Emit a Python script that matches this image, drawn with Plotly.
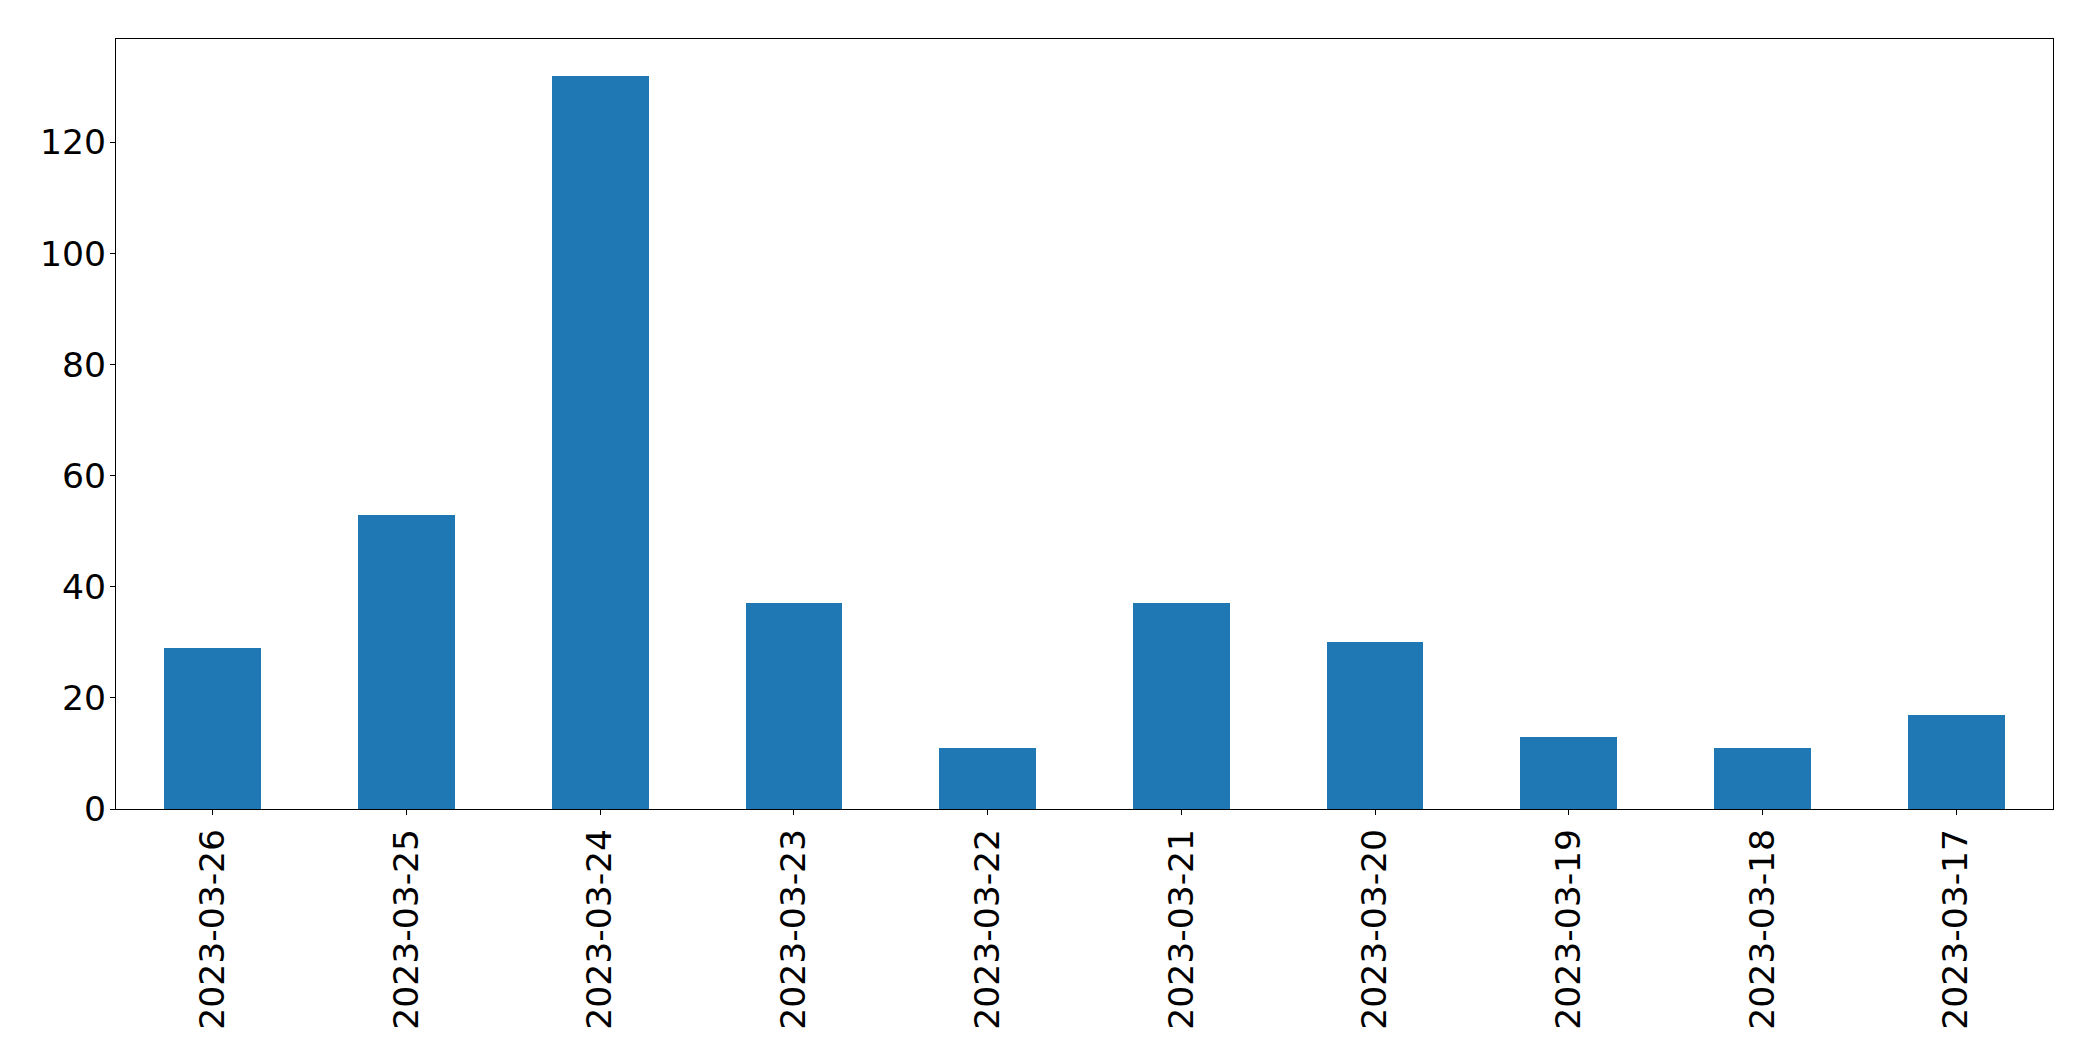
import plotly.graph_objects as go

dates = ["2023-03-26", "2023-03-25", "2023-03-24", "2023-03-23", "2023-03-22",
         "2023-03-21", "2023-03-20", "2023-03-19", "2023-03-18", "2023-03-17"]
counts = [29, 53, 132, 37, 11, 37, 30, 13, 11, 17]
y_ticks = [0, 20, 40, 60, 80, 100, 120]

fig = go.Figure(go.Bar(
    x=list(range(len(dates))), y=counts, width=0.5,
    marker=dict(color="#1f77b4", line=dict(width=0)),
))

axis_common = dict(showline=True, mirror=True, linecolor="black", linewidth=1.1,
                   ticks="outside", ticklen=5, tickwidth=1.1, tickcolor="black",
                   showgrid=False, zeroline=False,
                   tickfont=dict(family="DejaVu Sans", size=34.6, color="black"))

fig.update_xaxes(range=[-0.5, len(dates) - 0.5], tickmode="array",
                 tickvals=list(range(len(dates))), ticktext=dates, tickangle=-90,
                 **axis_common)
fig.update_yaxes(range=[0, max(counts) * 1.05], tickmode="array", tickvals=y_ticks,
                 ticklabelstandoff=-3, **axis_common)

# page body has an 8px default margin; compensate so the plot area lands at
# x 116..2053, y 39..809 in the window
fig.update_layout(width=2093, height=1061, autosize=False,
                  margin=dict(l=108, r=48, t=31, b=260, pad=0),
                  plot_bgcolor="white", paper_bgcolor="white",
                  showlegend=False, bargap=0)

fig.write_html("out.html")
